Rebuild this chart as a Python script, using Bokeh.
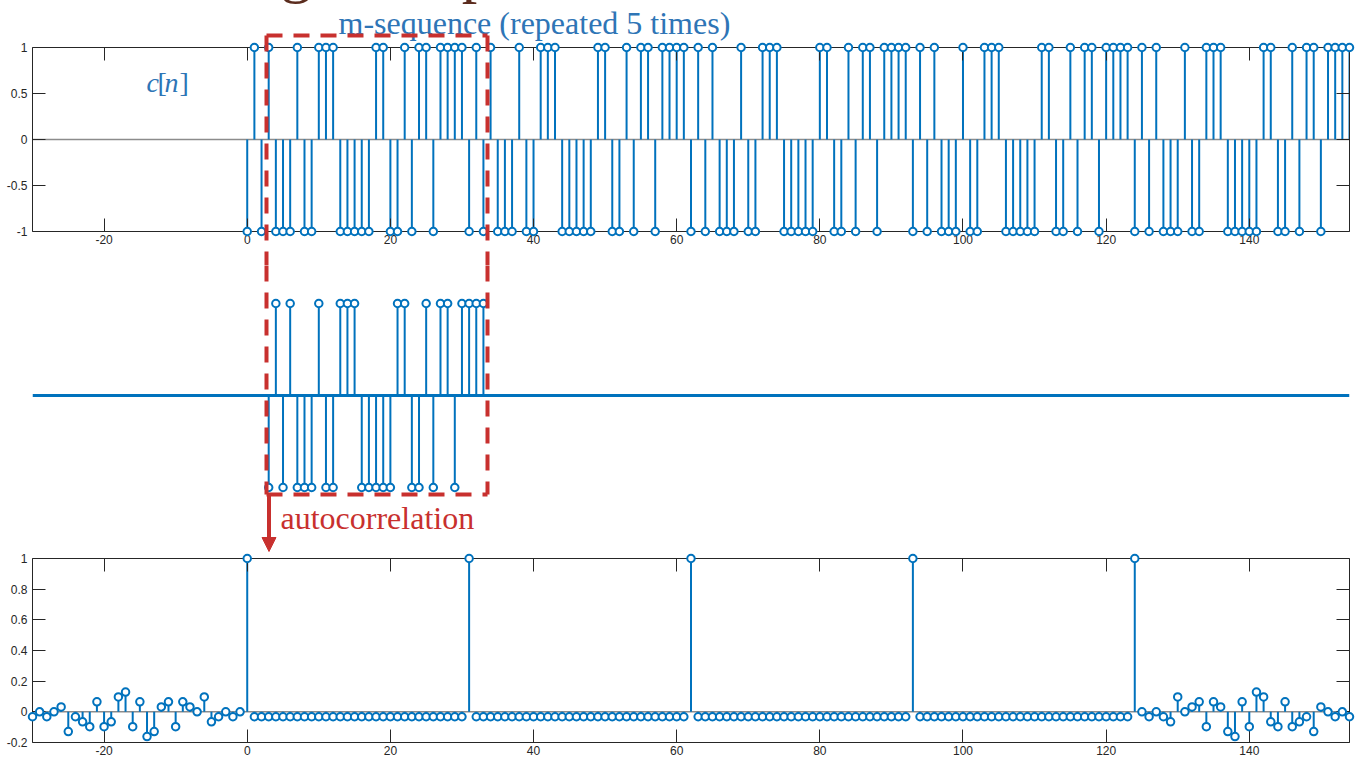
import numpy as np
from bokeh.plotting import figure
from bokeh.layouts import column
from bokeh.models import Range1d, LinearAxis, FixedTicker, Arrow, NormalHead, Span
from bokeh.core.properties import value
from bokeh.embed import file_html
from bokeh.resources import INLINE

# ---------------- data ----------------
period = [-1, 1, -1, 1, -1, -1, -1, 1, -1, -1, 1, 1, 1, -1, -1, -1,
          -1, -1, 1, 1, -1, -1, 1, -1, 1, 1, -1, 1, 1, 1, 1]
repeats = 5
c_n = np.arange(0, 31 * repeats)
c_vals = np.tile(period, repeats)

mid_n = np.arange(3, 34)
mid_vals = period

lag_left = np.arange(-30, 0)
r_left = [-0.032, 0, -0.032, 0, 0.032, -0.129, -0.032, -0.065, -0.097, 0.065,
          -0.097, -0.065, 0.097, 0.129, -0.097, 0.065, -0.161, -0.129, 0.032, 0.065,
          -0.097, 0.065, 0.032, 0, 0.097, -0.065, -0.032, 0, -0.032, 0]
lag_mid = np.arange(0, 125)
peak_lags = [0, 31, 62, 93, 124]
off_peak = -0.032
r_mid = [1.0 if k in peak_lags else off_peak for k in lag_mid]
lag_right = np.arange(125, 155)
r_right = [0, -0.032, 0, -0.032, -0.065, 0.097, 0, 0.032, 0.065, -0.097,
           0.065, 0.032, -0.129, -0.161, 0.065, -0.097, 0.129, 0.097, -0.065, -0.097,
           0.065, -0.097, -0.065, -0.032, -0.129, 0.032, 0, -0.032, 0, -0.032]
r_n = np.concatenate([lag_left, lag_mid, lag_right])
r_vals = np.concatenate([r_left, r_mid, r_right])

x_ticks = [-20, 0, 20, 40, 60, 80, 100, 120, 140]
x_labels = ["-20", "0", "20", "40", "60", "80", "100", "120", "140"]
y1_ticks = [-1, -0.5, 0, 0.5, 1]
y1_labels = ["-1", "-0.5", "0", "0.5", "1"]
y3_ticks = [-0.2, 0, 0.2, 0.4, 0.6, 0.8, 1]
y3_labels = ["-0.2", "0", "0.2", "0.4", "0.6", "0.8", "1"]

# ---------------- style ----------------
BLUE = "#0072BD"
TBLUE = "#2E75B6"
RED = "#C8302E"
BROWN = "#5B2C1E"
AX = "#262626"
GRAY = "#8C8C8C"
SERIF = "Liberation Serif"
XMIN, XMAX = -30, 154
W = 1363
FL, FR = 32, 1349


def xn(px):
    return XMIN + (px - FL) * (XMAX - XMIN) / (FR - FL)


def make_fig(h, top, bottom, ymin, ymax):
    p = figure(width=W, height=h, x_range=Range1d(XMIN, XMAX), y_range=Range1d(ymin, ymax),
               output_backend="svg", toolbar_location=None,
               min_border_left=FL, min_border_right=W - FR,
               min_border_top=top, min_border_bottom=bottom,
               x_axis_type=None, y_axis_type=None)
    p.outline_line_color = None
    p.background_fill_color = "white"
    p.border_fill_color = "white"
    return p


def add_axes(p, xt, xl, yt, yl):
    specs = [("below", xt, xl), ("above", xt, None), ("left", yt, yl), ("right", yt, None)]
    for side, ticks, labels in specs:
        ax = LinearAxis(ticker=FixedTicker(ticks=ticks))
        ax.major_tick_in = 13
        ax.major_tick_out = 0
        ax.minor_tick_line_color = None
        ax.axis_line_color = AX
        ax.axis_line_width = 1
        ax.major_tick_line_color = AX
        ax.major_tick_line_width = 1
        if labels is None:
            ax.major_label_overrides = {t: "" for t in ticks}
            ax.major_label_text_font_size = "0px"
            ax.major_label_standoff = 0
        else:
            ax.major_label_overrides = {t: s for t, s in zip(ticks, labels)}
            ax.major_label_text_font = "Liberation Sans"
            ax.major_label_text_font_size = "12px"
            ax.major_label_text_color = AX
            ax.major_label_standoff = 3 if side == "below" else 5
        p.add_layout(ax, side)


def stems(p, xs, ys, base_color=GRAY, base_width=1.5):
    if base_color is not None:
        p.add_layout(Span(location=0, dimension="width", line_color=base_color,
                          line_width=base_width, level="underlay"))
    p.segment(x0=xs, y0=0, x1=xs, y1=ys, line_color=BLUE, line_width=2)
    p.scatter(xs, ys, marker="circle", size=7.5, fill_color="white",
              line_color=BLUE, line_width=2, level="overlay")


def dash(p, x0, y0, x1, y1):
    p.segment(x0=[x0], y0=[y0], x1=[x1], y1=[y1], line_color=RED, line_width=4,
              line_dash="16 11", level="overlay")


def txt(p, x, y, s, size, color, style="normal"):
    p.text(x=[x], y=[y], text=[s], text_font=value(SERIF), text_font_size=value(size),
           text_color=color, text_font_style=style, text_baseline="alphabetic",
           text_align="left", level="overlay")


# ---------------- top panel ----------------
def yt(py):
    return 1 - (py - 47) / 92.0


p1 = make_fig(265, 47, 34, -1, 1)
add_axes(p1, x_ticks, x_labels, y1_ticks, y1_labels)
stems(p1, c_n, c_vals)
txt(p1, xn(131), yt(-31), "Timing example", "62px", BROWN)
txt(p1, xn(338), yt(22), "m-sequence (repeated 5 times)", "32px", TBLUE)
txt(p1, xn(146), yt(82), "c", "28px", TBLUE, "italic")
txt(p1, xn(157), yt(82), "[", "28px", TBLUE)
txt(p1, xn(164), yt(82), "n", "28px", TBLUE, "italic")
txt(p1, xn(179), yt(82), "]", "28px", TBLUE)
RL, RRt = xn(266), xn(487)
dash(p1, RL, yt(35), RRt, yt(35))
dash(p1, RL, yt(35), RL, yt(265))
dash(p1, RRt, yt(35), RRt, yt(265))

# ---------------- middle panel ----------------
def ym(py):
    return (395 - py) / 92.0


p2 = make_fig(287, 0, 0, ym(552), ym(265))
p2.add_layout(Span(location=0, dimension="width", line_color=BLUE, line_width=3))
stems(p2, mid_n, mid_vals, base_color=None)
dash(p2, RL, ym(265), RL, ym(494))
dash(p2, RRt, ym(265), RRt, ym(494))
dash(p2, RL, ym(494), RRt, ym(494))
p2.add_layout(Arrow(end=NormalHead(size=14, fill_color=RED, line_color=RED, line_width=1),
                    x_start=xn(268.5), y_start=ym(494), x_end=xn(268.5), y_end=ym(551),
                    line_color=RED, line_width=4))
txt(p2, xn(280), ym(517), "autocorrelation", "32px", RED)

# ---------------- bottom panel ----------------
p3 = make_fig(208, 6, 18, -0.2, 1)
add_axes(p3, x_ticks, x_labels, y3_ticks, y3_labels)
stems(p3, r_n, r_vals)

layout = column(p1, p2, p3, spacing=0)
open("out.html", "w").write(file_html(layout, INLINE))
